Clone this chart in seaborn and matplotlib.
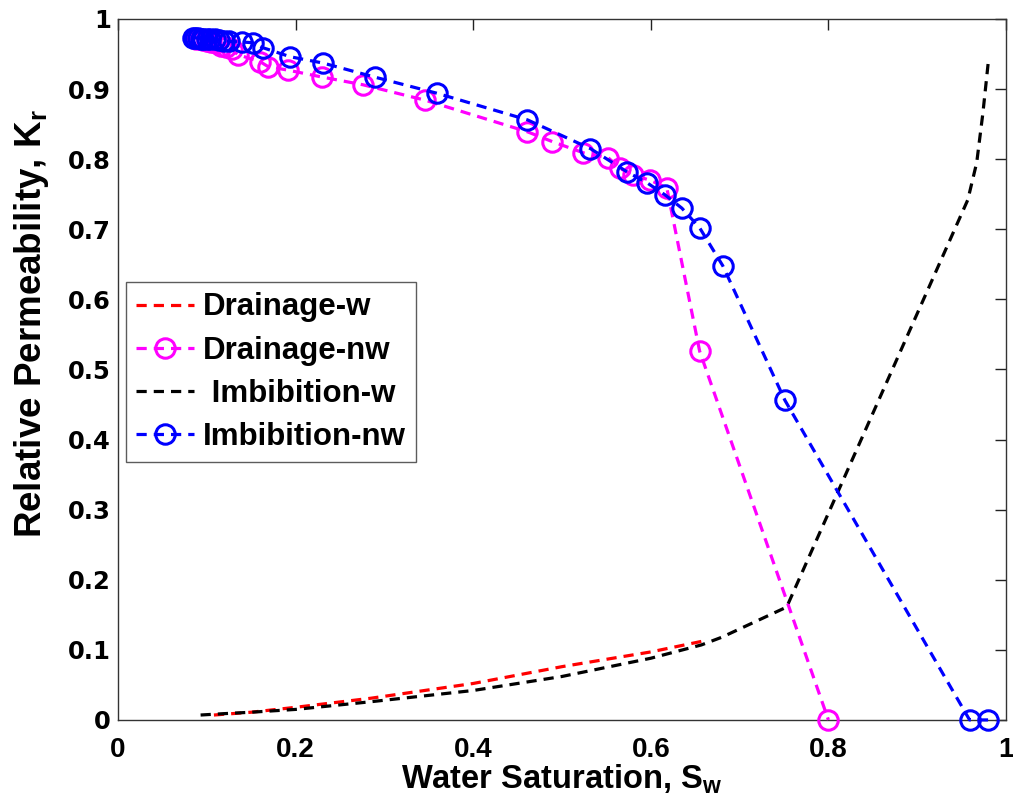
import numpy as np
import pandas as pd
import matplotlib
matplotlib.use("Agg")
import matplotlib.pyplot as plt
import seaborn as sns

# ---------------- data ----------------
drain_w_x = [0.108, 0.15, 0.20, 0.285, 0.40, 0.50, 0.60, 0.657]
drain_w_y = [0.007, 0.011, 0.018, 0.031, 0.052, 0.076, 0.097, 0.112]

drain_nw_x = [0.088, 0.092, 0.096, 0.100, 0.105, 0.110, 0.116, 0.122, 0.128,
              0.135, 0.160, 0.169, 0.191, 0.230, 0.276, 0.346, 0.461, 0.489,
              0.524, 0.552, 0.565, 0.580, 0.599, 0.618, 0.655, 0.800]
drain_nw_y = [0.972, 0.971, 0.970, 0.969, 0.967, 0.965, 0.962, 0.960, 0.957,
              0.949, 0.939, 0.932, 0.927, 0.917, 0.906, 0.884, 0.839, 0.825,
              0.809, 0.802, 0.787, 0.777, 0.770, 0.759, 0.526, 0.000]

imb_w_x = [0.093, 0.12, 0.15, 0.20, 0.285, 0.40, 0.50, 0.60, 0.657, 0.68,
           0.753, 0.957, 0.967, 0.974, 0.980]
imb_w_y = [0.007, 0.009, 0.011, 0.015, 0.026, 0.042, 0.062, 0.088, 0.107, 0.118,
           0.161, 0.742, 0.795, 0.866, 0.938]

imb_nw_x = [0.084, 0.087, 0.090, 0.093, 0.096, 0.100, 0.104, 0.109, 0.114, 0.119,
            0.125, 0.140, 0.152, 0.163, 0.194, 0.231, 0.289, 0.359, 0.461, 0.532,
            0.573, 0.596, 0.616, 0.635, 0.655, 0.681, 0.751, 0.959, 0.980]
imb_nw_y = [0.973, 0.973, 0.973, 0.972, 0.972, 0.972, 0.971, 0.971, 0.970, 0.969,
            0.968, 0.967, 0.966, 0.959, 0.946, 0.937, 0.917, 0.894, 0.856, 0.815,
            0.782, 0.766, 0.749, 0.730, 0.702, 0.648, 0.456, 0.000, 0.000]

labels = ["Drainage-w", "Drainage-nw", " Imbibition-w", "Imbibition-nw"]
colors = ["#ff0000", "#ff00ff", "#000000", "#0000ff"]
x_ticks = [0, 0.2, 0.4, 0.6, 0.8, 1]
x_tick_labels = ["0", "0.2", "0.4", "0.6", "0.8", "1"]
y_ticks = [0, 0.1, 0.2, 0.3, 0.4, 0.5, 0.6, 0.7, 0.8, 0.9, 1]
y_tick_labels = ["0", "0.1", "0.2", "0.3", "0.4", "0.5", "0.6", "0.7", "0.8", "0.9", "1"]

# ---------------- style ----------------
sns.set_style("white")
plt.rcParams["font.family"] = ["Liberation Sans", "DejaVu Sans"]
plt.rcParams["font.weight"] = "bold"
plt.rcParams["text.color"] = "black"
plt.rcParams["axes.labelcolor"] = "black"
plt.rcParams["xtick.color"] = "black"
plt.rcParams["ytick.color"] = "black"
plt.rcParams["mathtext.fontset"] = "custom"
plt.rcParams["mathtext.rm"] = "Liberation Sans:bold"
plt.rcParams["mathtext.it"] = "Liberation Sans:bold"
plt.rcParams["mathtext.bf"] = "Liberation Sans:bold"

fig = plt.figure(figsize=(10.13, 8.08), dpi=100)
ax = fig.add_axes([0.1165, 0.109, 0.8766, 0.8676])

series = [
    (drain_w_x, drain_w_y, None),
    (drain_nw_x, drain_nw_y, "o"),
    (imb_w_x, imb_w_y, None),
    (imb_nw_x, imb_nw_y, "o"),
]
for i, ((xs, ys, mk), lab, col) in enumerate(zip(series, labels, colors)):
    kw = dict(linestyle=(0, (3.2, 2.2)), linewidth=2.3)
    if mk:
        kw.update(marker="o", markersize=14, markerfacecolor="none",
                  markeredgecolor=col, markeredgewidth=2.2)
    sns.lineplot(x=xs, y=ys, ax=ax, color=col, label=lab, sort=False,
                 estimator=None, zorder=2 + i, clip_on=False, **kw)

ax.set_xlim(0, 1)
ax.set_ylim(0, 1)
ax.set_xticks(x_ticks)
ax.set_xticklabels(x_tick_labels, fontsize=20, fontweight="bold",
                   family="Liberation Sans")
ax.set_yticks(y_ticks)
ax.set_yticklabels(y_tick_labels, fontsize=17.5, fontweight="bold",
                   family="DejaVu Sans")
ax.tick_params(axis="both", direction="in", length=8, width=1,
               top=True, right=True, color="#222222")
ax.tick_params(axis="x", pad=12)
ax.tick_params(axis="y", pad=5)
for s in ax.spines.values():
    s.set_color("#333333")
    s.set_linewidth(1.0)
    s.set_visible(True)

ax.set_xlabel(r"Water Saturation, S$_{\mathrm{w}}$", fontsize=23.5,
              fontweight="bold", labelpad=0)
ax.set_ylabel(r"Relative Permeability, K$_{\mathrm{r}}$", fontsize=26.5,
              fontweight="bold", labelpad=6)
ax.yaxis.set_label_coords(-0.076, 0.565)

leg = ax.legend(loc="upper left", bbox_to_anchor=(0.009, 0.624),
                prop={"family": "Liberation Sans", "weight": "bold", "size": 22.5},
                frameon=True, fancybox=False, handlelength=1.85,
                handletextpad=0.3, borderpad=0.32, labelspacing=0.42,
                borderaxespad=0)
leg.get_frame().set_edgecolor("#333333")
leg.get_frame().set_linewidth(1.0)

fig.savefig("out.png", dpi=100, facecolor="white")
